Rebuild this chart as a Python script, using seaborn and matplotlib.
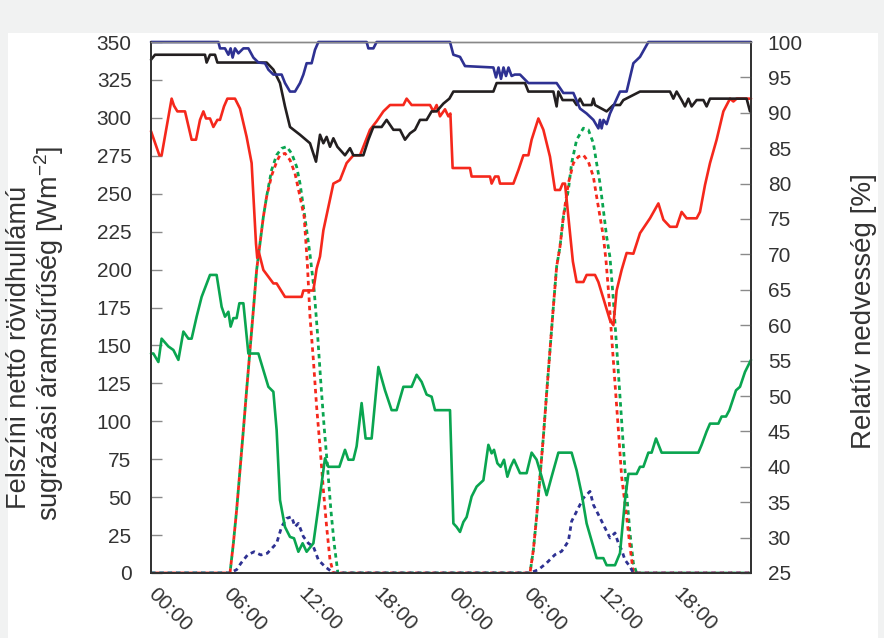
import matplotlib
matplotlib.use("Agg")
import matplotlib.pyplot as plt
from matplotlib.patches import Rectangle
import numpy as np
import pandas as pd
import seaborn as sns

# --- data (hours from start) ---
# relative humidity [%] (right axis)
blue_t = [0, 5.39, 5.52, 5.92, 6.19, 6.37, 6.53, 6.72, 6.99, 7.39, 7.79, 8.19, 8.59, 9.12, 9.39, 9.79,
          10.45, 10.72, 11.12, 11.52, 11.92, 12.19, 12.45, 12.85, 13.12, 13.39, 17.25, 17.39, 17.79, 18.05,
          23.92, 24.19, 24.72, 25.12, 27.39, 27.6, 27.8, 28.0, 28.2, 28.4, 28.6, 28.85, 29.1, 29.52, 30.19,
          32.45, 32.99, 33.79, 34.32, 34.85, 35.39, 35.79, 35.92, 36.05, 36.2, 36.45, 36.72, 37.52, 38.05,
          38.59, 39.12, 39.79, 48]
blue_rh = [100, 100, 99.1, 99.1, 98.2, 99.1, 97.8, 99.1, 98.4, 99.1, 99.1, 97.8, 97.1, 97.0, 96.1, 95.4,
           95.4, 94.2, 93.0, 93.0, 94.2, 95.4, 97.0, 97.0, 98.9, 100, 100, 99.1, 99.1, 100,
           100, 98.2, 97.9, 96.6, 96.4, 95.0, 96.4, 94.8, 96.4, 95.2, 96.4, 95.2, 95.4, 95.4, 94.2,
           94.2, 92.8, 92.8, 90.6, 89.9, 89.0, 87.8, 89.0, 87.8, 89.0, 88.4, 89.9, 93.0, 93.0,
           97.0, 97.9, 100, 100]

black_t = [0, 0.32, 4.32, 4.45, 4.72, 5.12, 5.31, 9.25, 9.79, 10.32, 10.72, 11.12, 11.92, 12.72, 13.2,
           13.52, 13.79, 14.05, 14.32, 14.59, 14.91, 15.52, 15.92, 16.19, 16.99, 17.39, 17.79, 18.45, 18.85,
           19.39, 19.92, 20.32, 20.72, 21.12, 21.52, 22.05, 22.45, 22.85, 23.39, 23.87, 24.19, 27.39, 27.65,
           29.92, 30.19, 32.19, 32.45, 32.59, 32.93, 33.79, 34.05, 34.32, 34.59, 35.25, 35.39, 35.52, 36.45,
           36.99, 37.52, 37.79, 39.12, 41.52, 41.79, 42.05, 42.45, 42.72, 42.99, 43.25, 43.65, 44.19, 44.45,
           44.72, 47.65, 47.92]
black_rh = [97.5, 98.2, 98.2, 97.1, 98.2, 98.2, 97.1, 97.1, 96.1, 94.2, 90.9, 88.0, 86.9, 85.7, 83.1,
            86.9, 85.7, 86.6, 85.2, 86.4, 85.2, 84.0, 85.0, 84.0, 84.0, 86.2, 88.0, 88.0, 89.0,
            87.6, 87.6, 86.2, 87.1, 87.6, 89.0, 89.0, 90.2, 90.2, 91.3, 92.0, 93.0, 93.0, 94.2,
            94.2, 93.0, 93.0, 90.9, 93.0, 91.8, 91.8, 91.1, 92.0, 91.1, 91.1, 92.0, 91.1, 90.2,
            91.1, 91.1, 91.8, 93.0, 93.0, 92.0, 93.0, 91.8, 90.9, 92.0, 90.9, 91.8, 91.8, 90.9,
            92.0, 92.0, 90.2]

red_t = [0, 0.67, 0.85, 1.65, 1.84, 2.11, 2.72, 3.25, 3.6, 3.92, 4.19, 4.40, 4.72, 4.99, 5.31, 5.52,
         5.84, 6.11, 6.72, 7.12, 7.65, 8.05, 8.40, 8.5, 8.6, 8.99, 9.79, 10.05, 10.72, 12.05, 12.19, 12.99,
         13.25, 13.52, 13.79, 14.59, 15.12, 15.65, 16.19, 16.72, 17.52, 18.05, 18.59, 19.12, 20.19, 20.45,
         20.85, 22.32, 22.59, 22.85, 23.12, 23.52, 23.79, 23.95, 24.13, 25.52, 25.65, 27.12, 27.25, 27.52,
         27.79, 27.92, 28.99, 29.39, 29.79, 30.19, 30.45, 30.99, 31.39, 31.92, 32.32, 32.72, 32.93, 33.12,
         33.39, 33.75, 34.05, 34.59, 34.85, 35.52, 35.79, 36.72, 36.99, 37.25, 37.65, 38.05, 38.59, 39.12,
         39.92, 40.59, 40.99, 41.52, 42.05, 42.45, 42.85, 43.65, 43.92, 44.32, 44.72, 45.25, 45.79, 46.32,
         46.59, 46.85, 48]
red_rh = [87.4, 84.0, 84.0, 92.0, 91.0, 90.2, 90.2, 86.2, 86.2, 89.0, 90.2, 89.2, 89.2, 88.0, 89.0, 89.0,
          90.9, 92.0, 92.0, 90.6, 86.6, 82.9, 71.5, 69.5, 70.5, 67.8, 65.9, 65.9, 64.0, 64.0, 64.9, 64.9,
          68.0, 69.7, 73.4, 80.0, 80.5, 82.9, 84.0, 84.0, 87.6, 88.8, 90.2, 91.1, 91.1, 92.0,
          91.1, 91.1, 90.2, 91.1, 89.5, 90.5, 89.5, 89.9, 82.2, 82.2, 81.0, 81.0, 80.0, 81.0,
          81.0, 80.0, 80.0, 81.9, 84.0, 84.0, 86.2, 89.2, 87.6, 83.8, 79.1, 79.1, 80.0, 80.0,
          75.3, 69.0, 66.1, 66.1, 67.1, 67.1, 66.1, 60.7, 60.0, 64.9, 67.8, 70.2, 70.1, 73.0,
          75.1, 77.2, 74.9, 73.9, 73.9, 76.0, 75.1, 75.1, 76.0, 79.8, 82.9, 86.2, 90.2, 92.0,
          91.6, 92.0, 92.0]

green_t = [0, 0.19, 0.59, 0.85, 1.39, 1.79, 2.19, 2.59, 2.99, 3.25, 3.65, 4.05, 4.72, 5.25, 5.65, 5.92,
           6.19, 6.37, 6.59, 6.85, 7.07, 7.39, 7.79, 8.59, 9.39, 9.79, 10.05, 10.32, 10.72, 11.12, 11.44,
           11.79, 12.13, 12.45, 12.99, 13.47, 13.92, 14.19, 15.07, 15.52, 15.79, 16.19, 16.45, 16.85, 17.17,
           17.65, 18.19, 18.72, 19.25, 19.65, 20.19, 20.85, 21.25, 21.65, 22.05, 22.45, 22.72, 23.92, 24.19,
           24.45, 24.72, 24.99, 25.25, 25.65, 26.05, 26.59, 26.99, 27.25, 27.44, 27.71, 27.97, 28.24, 28.51,
           28.77, 29.04, 29.52, 30.05, 30.45, 30.85, 31.25, 31.65, 32.05, 32.59, 33.65, 34.05, 34.45, 34.85,
           35.65, 36.19, 36.45, 37.12, 37.52, 37.92, 38.19, 38.85, 39.12, 39.39, 39.79, 40.05, 40.40, 40.85,
           43.79, 44.05, 44.45, 44.72, 45.39, 45.65, 46.00, 46.27, 46.80, 47.12, 47.52, 48]
green_rh = [56.0, 56.0, 54.8, 58.1, 57.0, 56.5, 55.1, 59.1, 58.1, 58.1, 61.2, 64.0, 67.1, 67.1, 62.6, 61.2,
            61.9, 59.8, 61.0, 61.0, 63.1, 63.1, 56.0, 56.0, 51.3, 50.6, 45.2, 35.3, 31.5, 30.1, 29.9,
            28.0, 29.2, 28.0, 29.2, 35.3, 41.2, 40.0, 40.0, 42.4, 41.0, 41.0, 42.9, 49.0, 44.0,
            44.0, 54.1, 50.8, 48.0, 48.0, 51.3, 51.3, 53.0, 52.0, 50.2, 49.9, 48.0, 48.0, 32.0,
            31.5, 30.8, 32.2, 32.9, 35.8, 37.2, 38.1, 43.1, 41.9, 42.4, 40.5, 40.0, 41.0, 38.6,
            40.0, 41.0, 39.1, 39.1, 42.0, 41.0, 38.6, 36.0, 38.6, 42.0, 42.0, 39.5, 36.2, 32.0,
            27.1, 27.1, 26.1, 26.1, 27.8, 35.3, 39.0, 39.0, 40.0, 40.0, 42.0, 42.0, 44.0, 42.0,
            42.0, 43.1, 45.0, 46.1, 46.1, 47.1, 47.1, 48.0, 50.8, 51.3, 53.4, 55.1]

# net shortwave radiation [W m-2] (left axis)
green_sw_t = [0, 6.32, 6.59, 6.85, 7.12, 7.39, 7.65, 7.92, 8.19, 8.45, 8.72, 8.99, 9.25, 9.65, 10.05,
              10.45, 10.85, 11.25, 11.65, 11.92, 12.19, 12.45, 12.72, 13.05, 13.32, 13.59, 13.85, 14.12,
              14.39, 14.65, 14.95,
              30.32, 30.59, 30.85, 31.12, 31.39, 31.65, 31.92, 32.19, 32.45, 32.72, 32.99, 33.39, 33.65,
              34.05, 34.59, 34.99, 35.39, 35.65, 35.92, 36.19, 36.45, 36.72, 36.99, 37.25, 37.52, 37.79,
              38.05, 38.32, 38.59, 38.85, 48]
green_sw = [0, 0, 19.6, 41.5, 67.9, 94.3, 120.6, 147, 173.4, 199.7, 217.3, 234.9, 248.1, 265.7, 275.5,
            279.9, 281, 276.6, 267.8, 256.8, 241.5, 226.1, 210, 186.6, 158, 125, 96.4, 70.1,
            41.5, 19.6, 0,
            0, 15.2, 37.1, 63.5, 89.8, 118.4, 147, 175.6, 201.9, 215.1, 234.9, 252.5, 270.1,
            285.5, 293.2, 292.1, 283.3, 270.1, 256.9, 239.3, 221.7, 208, 180, 149.2, 116.2, 83.3,
            52.5, 26.1, 6.4, 0, 0]

red_sw_t = [0, 6.32, 6.59, 6.85, 7.12, 7.39, 7.65, 7.92, 8.19, 8.45, 8.72, 8.99, 9.25, 9.65, 10.05, 10.32,
            10.72, 11.12, 11.52, 11.92, 12.25, 12.5, 12.72, 12.99, 13.25, 13.52, 13.79, 14.05, 14.32, 14.59,
            30.32, 30.59, 30.85, 31.12, 31.39, 31.65, 31.92, 32.19, 32.45, 32.72, 32.99, 33.39, 33.79,
            34.19, 34.59, 34.99, 35.39, 35.65, 35.92, 36.19, 36.4, 36.59, 36.85, 37.12, 37.39, 37.65,
            38.05, 38.32, 38.59, 48]
red_sw = [0, 0, 19.6, 41.5, 67.9, 94.3, 120.6, 147, 173.4, 199.7, 217.3, 234.9, 248.1, 262, 271, 275.5,
          276.6, 272.2, 263.4, 248.1, 234.9, 205, 169, 140.4, 109.6, 83.3, 54.7, 30.5, 8.6, 0,
          0, 15.2, 37.1, 63.5, 89.8, 118.4, 147, 175.6, 201.9, 215.1, 234.9, 256.9, 270.1,
          274.4, 275.5, 271.1, 261.2, 248.1, 234.9, 221.7, 206, 186.6, 155.8, 125, 94.3, 63.5,
          37.1, 17.4, 0, 0]

blue_sw_t = [0, 6.32, 6.85, 7.19, 7.72, 8.25, 8.79, 9.3, 10.05, 10.45, 10.85, 11.25, 11.52, 11.79, 12.19,
             12.59, 12.99, 13.39, 13.92, 14.59,
             30.32, 30.99, 31.65, 32.32, 32.85, 33.39, 33.65, 34.05, 34.59, 35.12, 35.39, 35.79, 36.19,
             36.72, 37.12, 37.39, 37.65, 37.92, 38.32, 38.59, 48]
blue_sw = [0, 0, 2.2, 6.4, 11.9, 14.0, 11.9, 13.0, 19.6, 30.5, 36.0, 37.1, 30.5, 32.7, 24.0,
           19.6, 17.4, 8.6, 4.2, 0,
           0, 2.2, 6.6, 12.1, 14.3, 20.9, 34.1, 40.6, 49.4, 53.8, 45.0, 38.5, 31.9,
           23.1, 26.4, 19.6, 15.2, 8.6, 4.2, 0, 0]

x_ticks = [0, 6, 12, 18, 24, 30, 36, 42]
x_labels = ["00:00", "06:00", "12:00", "18:00", "00:00", "06:00", "12:00", "18:00"]
sw_ticks = list(range(0, 351, 25))
rh_ticks = list(range(25, 101, 5))

GREEN = "#0aa550"
RED = "#f5281c"
BLUE = "#2e3192"
BLACK = "#231f20"

sns.set_theme(style="white")
plt.rcParams["font.family"] = ["Liberation Sans", "DejaVu Sans"]
plt.rcParams["mathtext.fontset"] = "custom"
plt.rcParams["mathtext.rm"] = "Liberation Sans"
plt.rcParams["mathtext.it"] = "Liberation Sans"

fig = plt.figure(figsize=(8.84, 6.38), dpi=100)
fig.patch.set_facecolor("#f1f2f2")
fig.patches.append(Rectangle((8 / 884, 0), 870 / 884, 605 / 638, transform=fig.transFigure,
                             facecolor="white", edgecolor="none", zorder=-5))

ax = fig.add_axes([151 / 884, 1 - 573 / 638, 600 / 884, 531 / 638])
ax2 = ax.twinx()
ax.set_zorder(1)
ax2.set_zorder(2)
ax2.patch.set_visible(False)

# dashed radiation curves
sw = [(green_sw_t, green_sw, GREEN, (0, (1.6, 1.4))),
      (red_sw_t, red_sw, RED, (1.5, (1.6, 1.4))),
      (blue_sw_t, blue_sw, BLUE, (0, (1.6, 1.4)))]
for t, v, c, ls in sw:
    df = pd.DataFrame({"t": t, "v": v})
    sns.lineplot(data=df, x="t", y="v", ax=ax, color=c, linestyle=ls, lw=2.0,
                 estimator=None, sort=False)

# solid humidity curves
rh = [(green_t, green_rh, GREEN), (red_t, red_rh, RED),
      (black_t, black_rh, BLACK), (blue_t, blue_rh, BLUE)]
for t, v, c in rh:
    df = pd.DataFrame({"t": t, "v": v})
    sns.lineplot(data=df, x="t", y="v", ax=ax2, color=c, lw=1.9,
                 estimator=None, sort=False, clip_on=False)

ax.set_xlim(0, 48)
ax.set_ylim(0, 350)
ax2.set_ylim(25, 100)
ax.set_yticks(sw_ticks)
ax2.set_yticks(rh_ticks)
ax.set_xticks(x_ticks)
ax.set_xticklabels(x_labels, rotation=-45, ha="left", va="center", rotation_mode="anchor",
                   fontsize=14.5, color="#333333")
ax.set_xlabel("")
ax.set_ylabel("")
ax2.set_ylabel("")

for a in (ax, ax2):
    a.tick_params(axis="both", direction="in", length=8, width=1, color="#8a8a8a",
                  labelsize=15, labelcolor="#333333")
    a.grid(False)
ax.tick_params(axis="x", pad=13)
ax.tick_params(axis="y", pad=14)
ax2.tick_params(axis="y", pad=12)

for a in (ax, ax2):
    for side in ("left", "bottom", "right"):
        a.spines[side].set_color("#333333")
        a.spines[side].set_linewidth(1.3)
    a.spines["top"].set_color("#888888")
    a.spines["top"].set_linewidth(1.0)

fig.text(19 / 884, 1 - 347 / 638, "Felszíni nettó rövidhullámú",
         rotation=90, ha="center", va="center", fontsize=19.5, color="#333333")
fig.text(49 / 884, 1 - 333 / 638, "sugrázási áramsűrűség [Wm$^{\\mathregular{-2}}$]",
         rotation=90, ha="center", va="center", fontsize=19.5, color="#333333")
fig.text(864 / 884, 1 - 311 / 638, "Relatív nedvesség [%]", rotation=90,
         ha="center", va="center", fontsize=20, color="#333333")

fig.savefig("out.png", dpi=100, facecolor=fig.get_facecolor())
